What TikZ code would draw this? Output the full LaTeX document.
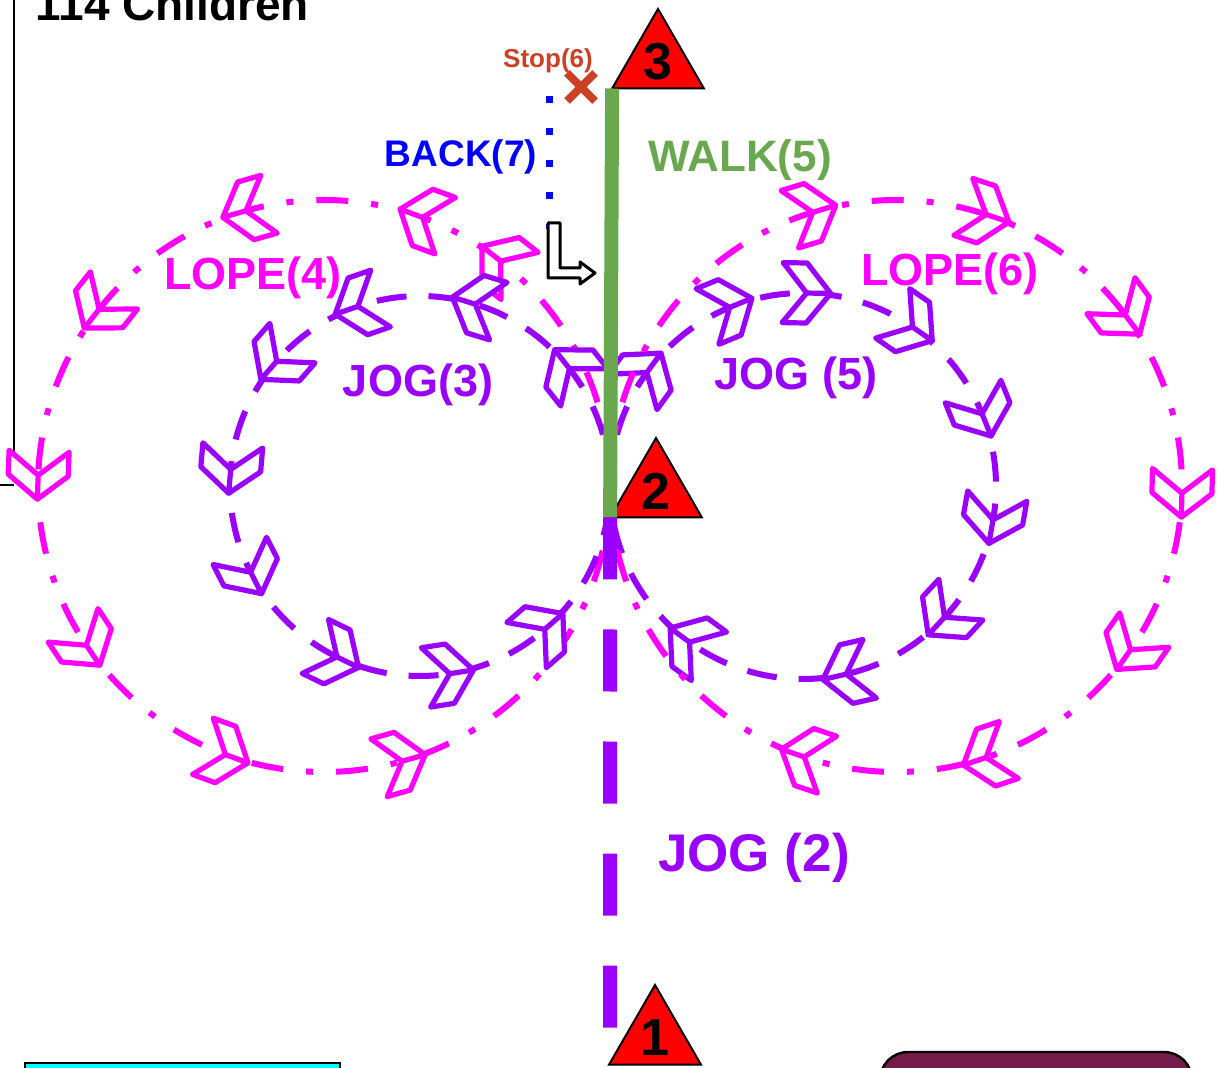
\documentclass[tikz,border=0pt]{standalone}
\usepackage{fontspec}
\setmainfont{Liberation Sans}
\usetikzlibrary{decorations.markings,shapes.geometric,shapes.misc}

\definecolor{lopepink}{HTML}{FF00FF}
\definecolor{jogpurple}{HTML}{9900FF}
\definecolor{walkgreen}{HTML}{6AA84F}
\definecolor{stopred}{HTML}{CC4125}
\definecolor{backblue}{HTML}{0000FF}
\definecolor{boxmaroon}{HTML}{741B47}
\definecolor{boxcyan}{HTML}{00FFFF}

% chevron drawn along a path (inside a marking)
\newcommand{\Chev}[1]{\draw[ChevStyle, draw=#1] (24,0) -- (0,30) -- (-24,30) -- (0,0)
  -- (-24,-30) -- (0,-30) -- cycle (0,0) -- (24,0);}

\begin{document}
\begin{tikzpicture}[x=0.5pt,y=-0.5pt]
  \tikzset{LopeStyle/.style = {
    draw          = lopepink,
    line width    = 3pt,
    dash pattern  = on 16pt off 11.5pt on 3.5pt off 11.5pt
    }
  }
  \tikzset{JogStyle/.style = {
    draw          = jogpurple,
    line width    = 3pt,
    dash pattern  = on 15pt off 11pt
    }
  }
  \tikzset{ChevStyle/.style = {
    solid,
    line width    = 2.6pt,
    line join     = round,
    line cap      = round,
    fill          = white
    }
  }
  \tikzset{TriStyle/.style = {
    regular polygon,
    regular polygon sides = 3,
    draw          = black,
    fill          = red,
    line width    = 1pt,
    minimum size  = 53pt,
    inner sep     = 0pt,
    outer sep     = 0pt,
    text          = black,
    font          = \bfseries\fontsize{26}{26}\selectfont
    }
  }
  \tikzset{LabelStyle/.style = {
    inner sep     = 0pt,
    font          = \bfseries\fontsize{#1}{#1}\selectfont
    }
  }

  \useasboundingbox (0,0) rectangle (1220,1068);
  \clip (0,0) rectangle (1220,1068);

  % frame lines and boxes cut by the page
  \draw[line width=0.75pt] (14,-5) -- (14,468);
  \draw[line width=0.75pt] (-5,485) -- (14,485);
  \draw[fill=boxcyan, line width=1.2pt] (25,1063) rectangle (340,1130);
  \draw[fill=boxmaroon, line width=1.2pt, rounded corners=14pt] (880,1052) rectangle (1192,1140);

  \node[LabelStyle=23, anchor=base west](Title) at (35,21) {114 Children};

  % crossing point of the loops
  \coordinate (X) at (610,486);

  \draw[LopeStyle, postaction={decorate}, decoration={markings,
    mark=at position .144 with {\Chev{lopepink}},
    mark=at position .194 with {\Chev{lopepink}},
    mark=at position .294 with {\Chev{lopepink}},
    mark=at position .394 with {\Chev{lopepink}},
    mark=at position .494 with {\Chev{lopepink}},
    mark=at position .594 with {\Chev{lopepink}},
    mark=at position .694 with {\Chev{lopepink}},
    mark=at position .794 with {\Chev{lopepink}}}]
    (X) arc[start angle=0, end angle=-360, radius=286];
  \draw[JogStyle, postaction={decorate}, decoration={markings,
    mark=at position .106 with {\Chev{jogpurple}},
    mark=at position .203 with {\Chev{jogpurple}},
    mark=at position .303 with {\Chev{jogpurple}},
    mark=at position .386 with {\Chev{jogpurple}},
    mark=at position .486 with {\Chev{jogpurple}},
    mark=at position .575 with {\Chev{jogpurple}},
    mark=at position .678 with {\Chev{jogpurple}},
    mark=at position .775 with {\Chev{jogpurple}},
    mark=at position .864 with {\Chev{jogpurple}}}]
    (X) arc[start angle=0, end angle=-360, radius=190];
  \draw[JogStyle, postaction={decorate}, decoration={markings,
    mark=at position .100 with {\Chev{jogpurple}},
    mark=at position .188 with {\Chev{jogpurple}},
    mark=at position .253 with {\Chev{jogpurple}},
    mark=at position .346 with {\Chev{jogpurple}},
    mark=at position .439 with {\Chev{jogpurple}},
    mark=at position .528 with {\Chev{jogpurple}},
    mark=at position .619 with {\Chev{jogpurple}},
    mark=at position .714 with {\Chev{jogpurple}},
    mark=at position .850 with {\Chev{jogpurple}}}]
    (X) arc[start angle=180, end angle=540, radius=193];
  \draw[LopeStyle, postaction={decorate}, decoration={markings,
    mark=at position .203 with {\Chev{lopepink}},
    mark=at position .301 with {\Chev{lopepink}},
    mark=at position .398 with {\Chev{lopepink}},
    mark=at position .504 with {\Chev{lopepink}},
    mark=at position .597 with {\Chev{lopepink}},
    mark=at position .699 with {\Chev{lopepink}},
    mark=at position .802 with {\Chev{lopepink}}}]
    (X) arc[start angle=180, end angle=540, radius=286];

  % cones
  \node[TriStyle](T3) at (658,62) {3};
  \node[TriStyle](T2) at (656,491) {2};
  \node[TriStyle](T1) at (655,1038) {1};

  \coordinate (JogEnd) at (610,1030);
  \draw[walkgreen, line width=7pt] (T3.corner 2) -- (T2.corner 2);
  \draw[jogpurple, line width=7pt, dash pattern=on 31pt off 25pt] (T2.corner 2) -- (JogEnd);

  % stop and back
  \node[cross out, draw=stopred, line width=4pt, minimum size=10pt, inner sep=0pt](StopX) at (581,87) {};
  \node[LabelStyle=13, text=stopred](Stop) at (548,61) {Stop(6)};
  \coordinate (BackTop) at (549,96);
  \coordinate (BackEnd) at (549,229);
  \draw[backblue, line width=3.5pt, dash pattern=on 3.5pt off 12.5pt] (BackTop) -- (BackEnd);
  \draw[black, line width=1.5pt, fill=white, line join=round]
    (548,223) -- (560,223) -- (560,268) -- (580,268) -- (580,262) -- (595,273)
    -- (580,284) -- (580,278) -- (548,278) -- cycle;

  % labels
  \node[LabelStyle=18.5, text=backblue](Back) at (461,157) {BACK(7)};
  \node[LabelStyle=22, text=walkgreen](Walk) at (740,160) {WALK(5)};
  \node[LabelStyle=22.5, text=lopepink](Lope4) at (253,278) {LOPE(4)};
  \node[LabelStyle=22.5, text=lopepink](Lope6) at (950,274) {LOPE(6)};
  \node[LabelStyle=22.5, text=jogpurple](Jog3) at (418,385) {JOG(3)};
  \node[LabelStyle=22.5, text=jogpurple](Jog5) at (796,378) {JOG (5)};
  \node[LabelStyle=26.5, text=jogpurple](Jog2) at (754,858) {JOG (2)};

\end{tikzpicture}
\end{document}
